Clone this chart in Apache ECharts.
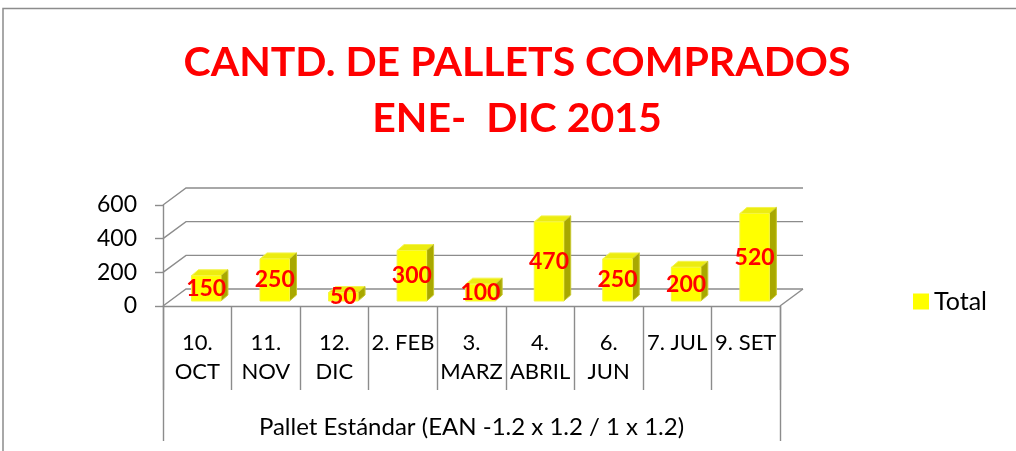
<!DOCTYPE html>
<html>
<head>
<meta charset="utf-8">
<script src="https://cdn.jsdelivr.net/npm/echarts@6/dist/echarts.min.js"></script>
<style>
html,body{margin:0;padding:0;background:#fff;}
#chart{width:1016px;height:451px;}
</style>
</head>
<body>
<div id="chart"></div>
<script>
// datos
var categories = ['10.\nOCT', '11.\nNOV', '12.\nDIC', '2. FEB', '3.\nMARZ', '4.\nABRIL', '6.\nJUN', '7. JUL', '9. SET'];
var totals = [150, 250, 50, 300, 100, 470, 250, 200, 520];
var groupLabel = ['Pallet Estándar (EAN -1.2 x 1.2 / 1 x 1.2)'];
var yTicks = [0, 200, 400, 600];
var seriesName = 'Total';

var FONT = 'Lato';
var GRAY = '#8c8c8c';
// profundidad del "3D"
var WALL_DX = 23, WALL_DY = -17;

var myChart = echarts.init(document.getElementById('chart'));

//paredes y lineas de fondo
function renderWall(params, api) {
    var v = api.value(1);
    var bw = api.size([1, 0])[0];
    var p0 = api.coord([0, v]);
    var pN = api.coord([categories.length - 1, v]);
    var left = p0[0] - bw / 2;
    var right = pN[0] + bw / 2;
    var y = p0[1];
    var children = [{
        type: 'polyline',
        shape: {points: [[left, y], [left + WALL_DX, y + WALL_DY], [right + WALL_DX, y + WALL_DY]]},
        style: {stroke: GRAY, lineWidth: 1.4, fill: null}
    }];
    if (v === 0) {
        children.push({
            type: 'line',
            shape: {x1: right, y1: y, x2: right + WALL_DX, y2: y + WALL_DY},
            style: {stroke: GRAY, lineWidth: 1.4}
        });
    }
    return {type: 'group', children: children};
}

//barras en caja
function renderBar(params, api) {
    var idx = api.value(0);
    var base = api.coord([idx, 0]);
    var top = api.coord([idx, api.value(1)]);
    var bw = api.size([1, 0])[0];
    var w = bw * 0.43;
    var dx = 7, dy = -6;
    var x = base[0] + bw * 0.13 - w / 2;
    var y = top[1] - 5;
    var h = base[1] - top[1];
    return {
        type: 'group',
        children: [{
            type: 'polygon',
            shape: {points: [[x, y], [x + dx, y + dy], [x + w + dx, y + dy], [x + w, y]]},
            style: {fill: '#ecec10', stroke: '#f4f450', lineWidth: 1}
        }, {
            type: 'polygon',
            shape: {points: [[x + w, y], [x + w + dx, y + dy], [x + w + dx, y + h + dy], [x + w, y + h]]},
            style: {fill: '#a8a800', stroke: '#c8c830', lineWidth: 1}
        }, {
            type: 'rect',
            shape: {x: x, y: y, width: w, height: h},
            style: {fill: '#ffff00', stroke: '#f6f640', lineWidth: 1}
        }, {
            type: 'text',
            x: x + w / 2,
            y: y + h / 2,
            style: {
                text: String(api.value(1)),
                fill: '#ff0000',
                font: 'bold 23px ' + FONT,
                align: 'center',
                verticalAlign: 'middle'
            },
            z2: 10
        }]
    };
}

var option = {
    animation: false,
    title: {
        text: 'CANTD. DE PALLETS COMPRADOS\nENE-  DIC 2015',
        left: 512,
        textAlign: 'center',
        top: 30,
        textStyle: {color: '#ff0000', fontFamily: FONT, fontWeight: 'bold', fontSize: 41, lineHeight: 56}
    },
    legend: {
        left: 908,
        top: 284,
        icon: 'rect',
        itemWidth: 16,
        itemHeight: 16,
        textStyle: {fontFamily: FONT, fontSize: 25, color: '#000'},
        data: [{name: seriesName, itemStyle: {color: '#ffff00'}}]
    },
    graphic: [{
        type: 'rect',
        shape: {x: 3, y: 8.5, width: 1200, height: 600},
        style: {fill: null, stroke: GRAY, lineWidth: 1.5},
        silent: true
    }],
    grid: {left: 163, right: 236, top: 205, bottom: 145},
    xAxis: [{
        type: 'category',
        data: categories,
        axisLine: {lineStyle: {color: GRAY, width: 1.4}},
        axisTick: {show: true, length: 84, interval: 0, lineStyle: {color: GRAY, width: 1.4}},
        axisLabel: {interval: 0, fontFamily: FONT, fontSize: 22, lineHeight: 29, color: '#000', margin: 22}
    }, {
        type: 'category',
        position: 'bottom',
        data: groupLabel,
        axisLine: {show: false},
        axisTick: {show: true, length: 135, lineStyle: {color: GRAY, width: 1.4}},
        axisLabel: {fontFamily: FONT, fontSize: 24, color: '#000', margin: 109}
    }],
    yAxis: {
        type: 'value',
        min: 0,
        max: 600,
        interval: 200,
        axisLine: {show: true, lineStyle: {color: GRAY, width: 1.4}},
        axisTick: {show: true, length: 8, lineStyle: {color: GRAY, width: 1.4}},
        splitLine: {show: false},
        axisLabel: {fontFamily: FONT, fontSize: 23, color: '#000', margin: 26}
    },
    series: [{
        name: 'walls',
        type: 'custom',
        renderItem: renderWall,
        data: yTicks.map(function (v) { return [0, v]; }),
        silent: true,
        z: 1
    }, {
        name: seriesName,
        type: 'custom',
        renderItem: renderBar,
        itemStyle: {color: '#ffff00'},
        data: totals.map(function (v, i) { return [i, v]; }),
        z: 5
    }]
};
myChart.setOption(option);
window.addEventListener('resize', function () {
    myChart.resize();
});
</script>
</body>
</html>
